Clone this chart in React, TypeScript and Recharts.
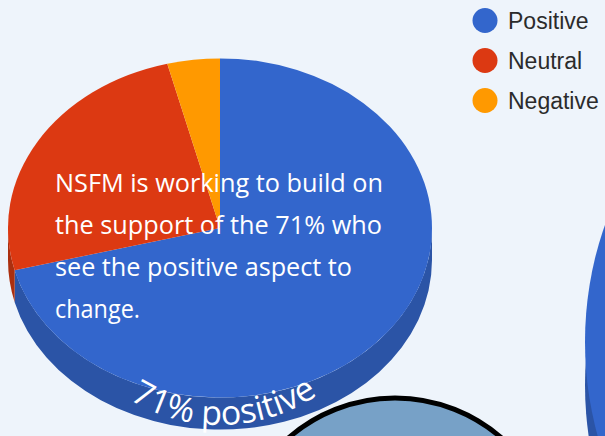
import React from 'react';
import { PieChart, Pie, Cell, Legend } from 'recharts';

// ---- data ----
const categories = ['Positive', 'Neutral', 'Negative'];
const shares = [71, 25, 4];
const topColors = ['#3366cc', '#dc3912', '#ff9900'];
const sideColors = ['#2b54a6', '#ab2f0f', '#c47500'];
const messageLines = [
  'NSFM is working to build on',
  'the support of the 71% who',
  'see the positive aspect to',
  'change.',
];
const messageWidths = [328, 327, 297, 85];
const arcLabel = '71% positive';

const data = categories.map((name, i) => ({ name, value: shares[i] }));

const W = 605;
const H = 436;
const BG = '#eef4fb';
const TILT = 0.8;
const DEPTH = 32;
const RAD = Math.PI / 180;

function pt(cx: number, cy: number, r: number, a: number): [number, number] {
  return [cx + r * Math.cos(a * RAD), cy - r * TILT * Math.sin(a * RAD)];
}

function topPath(cx: number, cy: number, r: number, a0: number, a1: number) {
  const [x0, y0] = pt(cx, cy, r, a0);
  const [x1, y1] = pt(cx, cy, r, a1);
  const large = Math.abs(a0 - a1) > 180 ? 1 : 0;
  return `M${cx},${cy} L${x0},${y0} A${r},${r * TILT} 0 ${large} 1 ${x1},${y1} Z`;
}

function sidePaths(cx: number, cy: number, r: number, a0: number, a1: number) {
  const paths: string[] = [];
  for (let n = -2; n <= 1; n++) {
    const lo = -180 + 360 * n;
    const hi = 360 * n;
    const b0 = Math.min(a0, hi);
    const b1 = Math.max(a1, lo);
    if (b0 - b1 > 0.01) {
      const [x0, y0] = pt(cx, cy, r, b0);
      const [x1, y1] = pt(cx, cy, r, b1);
      const large = b0 - b1 > 180 ? 1 : 0;
      paths.push(
        `M${x0},${y0} A${r},${r * TILT} 0 ${large} 1 ${x1},${y1} L${x1},${y1 + DEPTH} A${r},${r * TILT} 0 ${large} 0 ${x0},${y0 + DEPTH} Z`
      );
    }
  }
  return paths;
}

const renderSlice = (props: any) => {
  const { cx, cy, outerRadius, startAngle, endAngle, index } = props;
  const a0 = Math.max(startAngle, endAngle);
  const a1 = Math.min(startAngle, endAngle);
  return (
    <g key={`slice-${index}`}>
      {sidePaths(cx, cy, outerRadius, a0, a1).map((d, j) => (
        <path key={j} d={d} fill={sideColors[index]} />
      ))}
      <path d={topPath(cx, cy, outerRadius, a0, a1)} fill={topColors[index]} />
    </g>
  );
};

const renderLegend = (props: any) => {
  const payload = props.payload || [];
  const ordered = categories.map(
    (name, i) => payload.find((p: any) => p.value === name) || { value: name, color: topColors[i] }
  );
  return (
    <svg width={140} height={125} style={{ display: 'block' }}>
      {ordered.map((item: any, i: number) => (
        <g key={i}>
          <circle cx={17} cy={20.5 + i * 40} r={12.5} fill={item.color || topColors[i]} />
          <text
            x={40}
            y={29 + i * 40}
            fontFamily="'Liberation Sans', Arial, sans-serif"
            fontSize={23}
            fill="#2b2b2b"
          >
            {item.value}
          </text>
        </g>
      ))}
    </svg>
  );
};

export default function App() {
  const arcCx = 220;
  const arcCy = 251;
  const arcR = 174;
  const s = Math.sin(70 * RAD) * arcR;
  const c = Math.cos(70 * RAD) * arcR;
  const arcD = `M${arcCx - s},${arcCy + c} A${arcR},${arcR} 0 0 0 ${arcCx + s},${arcCy + c}`;

  return (
    <div
      style={{
        position: 'absolute',
        left: 0,
        top: 0,
        width: W,
        height: H,
        background: BG,
        overflow: 'hidden',
      }}
    >
      {/* background decorations */}
      <svg width={W} height={H} style={{ position: 'absolute', left: 0, top: 0 }}>
        <circle cx={395} cy={560} r={162} fill="#77a1c7" stroke="#000" strokeWidth={5} />
        <ellipse cx={820} cy={385} rx={235} ry={290} fill="#2b54a6" />
        <ellipse cx={820} cy={342} rx={235} ry={290} fill="#3366cc" />
      </svg>
      <div style={{ position: 'absolute', left: 0, top: 0 }}>
        <PieChart width={W} height={H} margin={{ top: 0, right: 0, bottom: 0, left: 0 }}>
          <Pie
            data={data}
            dataKey="value"
            nameKey="name"
            cx={220}
            cy={228}
            outerRadius={212}
            startAngle={90}
            endAngle={-270}
            stroke="none"
            fillOpacity={0}
            label={renderSlice}
            labelLine={false}
            isAnimationActive={false}
          >
            {data.map((d, i) => (
              <Cell key={d.name} fill={topColors[i]} />
            ))}
          </Pie>
          <Legend
            layout="vertical"
            verticalAlign="top"
            align="right"
            itemSorter={null as any}
            content={renderLegend}
            wrapperStyle={{ position: 'absolute', left: 468, top: 0, width: 140, height: 125 }}
          />
        </PieChart>
      </div>
      {/* text overlay */}
      <svg width={W} height={H} style={{ position: 'absolute', left: 0, top: 0, pointerEvents: 'none' }}>
        {messageLines.map((line, i) => (
          <text
            key={i}
            x={55}
            y={192 + i * 42}
            fontFamily="'Open Sans', sans-serif"
            fontSize={25}
            fill="#ffffff"
            textLength={messageWidths[i]}
            lengthAdjust="spacingAndGlyphs"
          >
            {line}
          </text>
        ))}
        <defs>
          <path id="arcPath" d={arcD} />
        </defs>
        <text fontFamily="'Open Sans', sans-serif" fontSize={34} fill="#ffffff">
          <textPath href="#arcPath" startOffset="51%" textAnchor="middle">
            {arcLabel}
          </textPath>
        </text>
      </svg>
    </div>
  );
}
